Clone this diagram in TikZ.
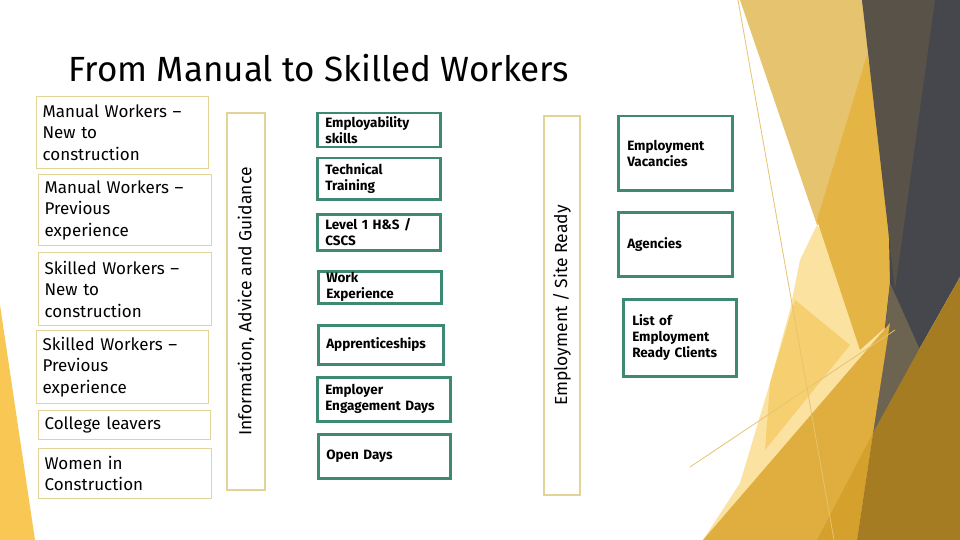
\documentclass[tikz,border=0pt]{standalone}
\usepackage{fontspec}
\setmainfont{Fira Sans}
\usepackage{xcolor}
\usepackage{tikz}
\usetikzlibrary{positioning}
\definecolor{srcline}{RGB}{226,212,150}
\definecolor{stageline}{RGB}{62,137,115}
\definecolor{wedgegold}{RGB}{249,199,83}
\definecolor{facetbeige}{RGB}{230,195,110}
\definecolor{facetpale}{RGB}{252,226,160}
\definecolor{facetlight}{RGB}{246,208,112}
\definecolor{facetgold}{RGB}{228,181,68}
\definecolor{facetorange}{RGB}{223,174,62}
\definecolor{facetamber}{RGB}{213,161,44}
\definecolor{facetbrown}{RGB}{88,82,72}
\definecolor{facetdark}{RGB}{70,71,76}
\definecolor{facetgray}{RGB}{108,100,81}
\definecolor{facetdeep}{RGB}{166,124,34}
\tikzstyle{srcbox} = [rectangle, draw=srcline, line width=1.2pt, anchor=north west,
    align=left, inner xsep=6pt, inner ysep=0pt, font=\fontsize{17}{21.5}\selectfont]
\tikzstyle{railbox} = [rectangle, draw=srcline, line width=1.2pt, rotate=90,
    inner sep=0pt, font=\fontsize{17.5}{20}\selectfont]
\tikzstyle{stagebox} = [rectangle, draw=stageline, line width=2.5pt, anchor=north west,
    align=left, inner xsep=8pt, inner ysep=0pt, font=\bfseries\fontsize{13.5}{16}\selectfont]
\tikzstyle{facetline} = [draw=facetbeige, line width=0.8pt]

\begin{document}
\begin{tikzpicture}[x=1pt, y=-1pt]
    % Frame
    \useasboundingbox (0,0) rectangle (960,540);
    \fill[white] (0,0) rectangle (960,540);

    % Facets
    \fill[wedgegold] (0,305) -- (35,540) -- (0,540) -- cycle;
    \fill[facetbeige] (740,0) -- (862,0) -- (890,200) -- (817,225) -- cycle;
    \fill[facetpale] (817,225) -- (890,323) -- (703,540) -- (740,483) -- (770,383) -- (790,310) -- (800,260) -- cycle;
    \fill[facetlight] (795,300) -- (850,345) -- (765,450) -- (770,383) -- cycle;
    \fill[facetgold] (867,55) -- (887,150) -- (892,300) -- (890,323) -- (860,350) -- (817,220) -- cycle;
    \fill[facetdark] (862,0) -- (960,0) -- (960,277) -- (917,353) -- (873,433) -- (890,283) -- (887,150) -- cycle;
    \fill[facetbrown] (862,0) -- (935,0) -- (895,290) -- cycle;
    \fill[facetgray] (890,283) -- (920,350) -- (873,433) -- (885,330) -- cycle;
    \fill[facetorange] (703,540) -- (890,323) -- (873,433) -- (857,540) -- cycle;
    \fill[facetamber] (817,540) -- (873,433) -- (857,540) -- cycle;
    \fill[facetdeep] (960,277) -- (960,540) -- (857,540) -- (873,433) -- (917,353) -- cycle;
    \draw[facetline] (738,0) -- (834,540);
    \draw[facetline] (690,467) -- (895,330);

    % Title
    \node[font=\fontsize{35}{40}\selectfont] (title) at (319,68) {From Manual to Skilled Workers};

    % Starting groups
    \node[srcbox, text width=160pt, minimum height=72pt] (mnew) at (36,96) {Manual Workers –\\New to\\construction};
    \node[srcbox, text width=161pt, minimum height=71pt] (mprev) at (38,174) {Manual Workers –\\Previous\\experience};
    \node[srcbox, text width=161pt, minimum height=73pt] (snew) at (38,252) {Skilled Workers –\\New to\\construction};
    \node[srcbox, text width=160pt, minimum height=73pt] (sprev) at (36,330) {Skilled Workers –\\Previous\\experience};
    \node[srcbox, text width=160pt, minimum height=29pt] (college) at (38,410) {College leavers};
    \node[srcbox, text width=161pt, minimum height=50pt] (women) at (38,448) {Women in\\Construction};

    % Rails
    \node[railbox, minimum width=377pt, minimum height=38pt] (iag) at (246,301.5) {Information, Advice and Guidance};
    \node[railbox, minimum width=379pt, minimum height=36pt] (ready) at (562,305.5) {Employment / Site Ready};

    % Stages
    \node[stagebox, text width=107pt, minimum height=34pt] (employ) at (316,112) {Employability\\skills};
    \node[stagebox, text width=107pt, minimum height=41pt] (tech) at (316,157) {Technical\\Training};
    \node[stagebox, text width=107pt, minimum height=36pt] (level) at (316,213) {Level 1 H\&S /\\CSCS};
    \node[stagebox, text width=107pt, minimum height=32pt] (work) at (317,270) {Work\\Experience};
    \node[stagebox, text width=109pt, minimum height=39pt] (appr) at (317,324) {Apprenticeships};
    \node[stagebox, text width=117pt, minimum height=44pt] (engage) at (316,376) {Employer\\Engagement Days};
    \node[stagebox, text width=116pt, minimum height=44pt] (open) at (317,433) {Open Days};

    % Outcomes
    \node[stagebox, inner xsep=9pt, text width=96pt, minimum height=74pt] (vac) at (617,115) {Employment\\Vacancies};
    \node[stagebox, inner xsep=9pt, text width=96pt, minimum height=64pt] (agency) at (617,211) {Agencies};
    \node[stagebox, inner xsep=9pt, text width=95pt, minimum height=77pt] (clients) at (622,298) {List of\\Employment\\Ready Clients};
\end{tikzpicture}
\end{document}
